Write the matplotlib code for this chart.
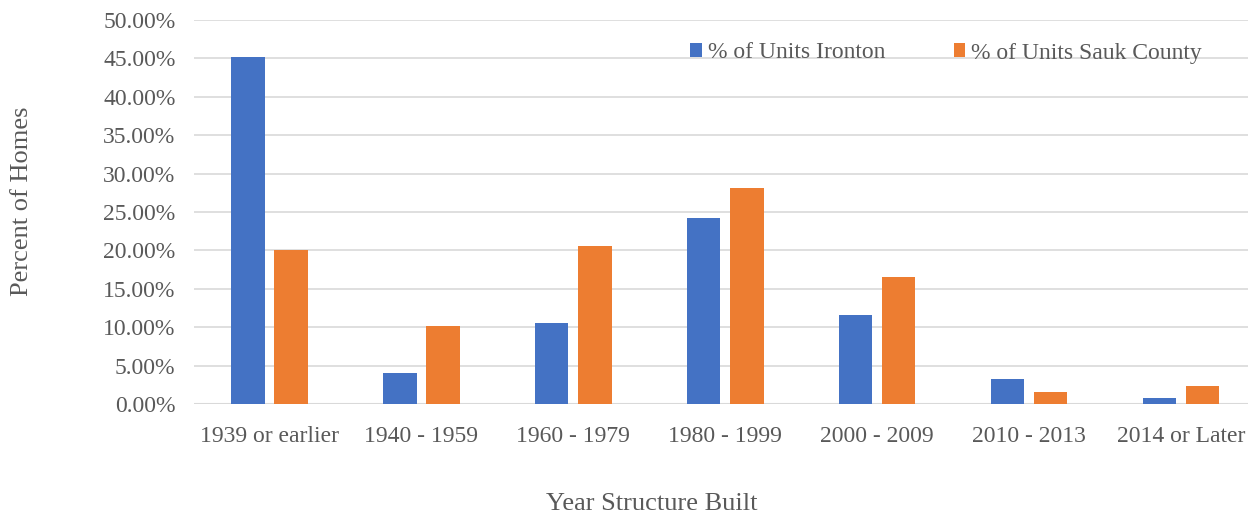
import matplotlib
matplotlib.use("Agg")
import matplotlib.pyplot as plt
import numpy as np
from matplotlib.ticker import FuncFormatter, MultipleLocator

categories = ["1939 or earlier", "1940 - 1959", "1960 - 1979", "1980 - 1999",
              "2000 - 2009", "2010 - 2013", "2014 or Later"]
ironton = [45.2, 4.1, 10.5, 24.2, 11.6, 3.3, 0.8]
sauk = [20.0, 10.1, 20.6, 28.1, 16.6, 1.6, 2.4]
series_names = ["% of Units Ironton", "% of Units Sauk County"]

plt.rcParams['font.family'] = ['Liberation Serif', 'DejaVu Serif']
text_color = "#595959"

fig = plt.figure(figsize=(12.48, 5.16), dpi=100)
ax = fig.add_axes([193.5/1248, 112/516, (1257-193.5)/1248, 384/516])

x = np.arange(len(categories))
w = 0.22
off = 0.142
ax.bar(x - off, ironton, w, color="#4472C4", label=series_names[0], zorder=3)
ax.bar(x + off, sauk, w, color="#ED7D31", label=series_names[1], zorder=3)

ax.set_xlim(-0.5, len(categories) - 0.5)
ax.set_ylim(0, 50)
ax.yaxis.set_major_locator(MultipleLocator(5))
ax.yaxis.set_major_formatter(FuncFormatter(lambda v, p: f"{v:.2f}%"))
ax.grid(axis='y', color="#D9D9D9", linewidth=1.2, zorder=0)
for s in ax.spines.values():
    s.set_visible(False)
ax.axhline(0, color="#D9D9D9", linewidth=1.5, zorder=2)
ax.set_xticks(x)
ax.set_xticklabels(categories)
ax.tick_params(axis='both', length=0, labelsize=17, labelcolor=text_color)
ax.tick_params(axis='x', pad=16)
ax.tick_params(axis='y', pad=13)

fig.text(22/1248, 1 - 201/516, "Percent of Homes", rotation=90, ha='center', va='center',
         fontsize=19, color=text_color)
fig.text(652/1248, 1 - 504/516, "Year Structure Built", ha='center', va='center',
         fontsize=19, color=text_color)

leg = ax.legend(loc='center left', bbox_to_anchor=(690/1248, 1 - 53/516), bbox_transform=fig.transFigure,
                ncol=2, frameon=False, fontsize=17, handlelength=0.5, handleheight=0.5,
                handletextpad=0.25, columnspacing=2.9, borderaxespad=0, borderpad=0)
for t in leg.get_texts():
    t.set_color(text_color)

fig.savefig("out.png", dpi=100)
